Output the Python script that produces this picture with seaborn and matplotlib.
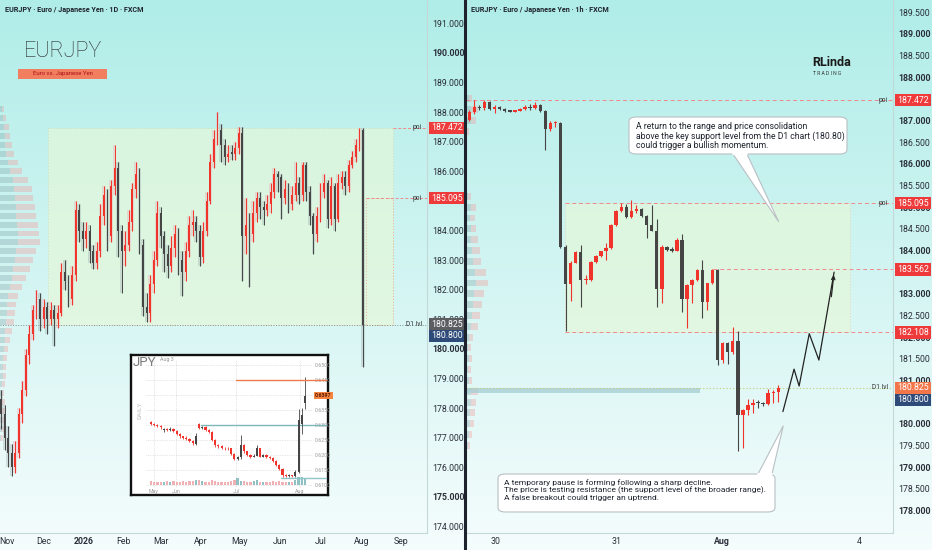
import matplotlib
matplotlib.use("Agg")
import matplotlib.pyplot as plt
import matplotlib.transforms as mtransforms
from matplotlib.patches import FancyBboxPatch, Polygon, Rectangle
from matplotlib.lines import Line2D
import numpy as np
import pandas as pd
import seaborn as sns

# ---- daily EURJPY (left panel), red = up, dark = down
d1_open0 = 178.3
d1_close = [177.8, 177.0, 176.5, 176.0, 176.5, 177.8, 178.6, 179.8, 180.5, 181.3,
            181.7, 181.0, 181.4, 181.0, 181.3, 181.0, 181.2, 182.6, 182.3, 181.7,
            182.5, 184.7, 184.0, 183.7, 184.0, 183.3, 182.9, 183.3, 184.5, 185.2,
            183.8, 185.5, 186.1, 184.0, 183.3, 183.5, 184.3, 185.4, 185.9, 183.5,
            181.4, 181.2, 182.2, 183.0, 184.6, 183.8, 183.2, 182.8, 183.4, 183.9,
            183.0, 182.6, 183.3, 184.2, 184.3, 184.0, 183.1, 184.0, 185.0, 186.3,
            187.1, 187.4, 186.9, 186.5, 186.6, 186.6, 186.8, 187.3, 183.8, 184.2,
            183.9, 184.6, 185.1, 184.8, 184.7, 184.9, 185.3, 185.9, 185.8, 185.1,
            185.4, 184.9, 185.2, 185.6, 185.2, 186.2, 185.3, 184.5, 183.9, 184.5,
            185.3, 185.6, 184.4, 185.5, 184.4, 185.6, 185.8, 185.5, 186.2, 186.5,
            186.9, 187.4, 180.8]
d1_high = [178.6, 178.1, 177.4, 176.8, 176.9, 178.0, 178.9, 180.0, 180.8, 181.5,
           182.0, 181.9, 181.7, 181.6, 181.6, 181.5, 181.5, 182.9, 183.0, 182.5,
           182.8, 185.0, 184.9, 184.3, 184.3, 184.2, 183.5, 183.6, 184.9, 185.5,
           185.4, 185.7, 186.9, 186.3, 184.2, 184.0, 184.7, 185.6, 186.3, 186.1,
           183.7, 181.9, 182.5, 183.3, 185.0, 184.8, 184.0, 183.5, 183.8, 184.2,
           184.1, 183.3, 183.6, 184.5, 184.7, 184.5, 184.2, 184.3, 185.3, 186.6,
           187.4, 188.0, 187.6, 187.1, 186.9, 186.9, 187.0, 187.5, 187.5, 185.1,
           184.6, 185.0, 185.3, 185.3, 185.0, 185.2, 185.6, 186.1, 186.0, 185.9,
           185.7, 185.6, 185.5, 186.3, 185.8, 186.3, 186.3, 185.5, 184.6, 184.8,
           185.6, 185.9, 185.7, 185.8, 185.6, 185.9, 186.0, 186.0, 186.4, 186.7,
           187.1, 187.47, 187.47]
d1_low = [177.3, 176.6, 176.0, 175.7, 175.8, 176.3, 177.5, 178.4, 179.5, 180.3,
          181.0, 180.6, 180.7, 180.5, 180.8, 180.1, 180.7, 181.1, 182.0, 181.4,
          181.5, 182.3, 183.6, 183.3, 183.4, 182.9, 182.7, 182.7, 183.1, 184.2,
          183.3, 183.6, 185.2, 183.1, 181.9, 182.8, 183.3, 184.0, 185.1, 183.2,
          181.1, 180.9, 180.9, 181.9, 182.8, 183.4, 182.6, 182.4, 182.6, 183.1,
          182.5, 181.8, 182.3, 183.1, 183.8, 183.6, 182.8, 182.9, 183.8, 184.9,
          186.1, 186.9, 186.3, 186.2, 186.3, 186.4, 186.4, 186.6, 182.3, 183.2,
          182.1, 183.6, 184.3, 184.4, 184.2, 184.5, 184.6, 185.1, 185.3, 184.4,
          184.9, 184.6, 184.7, 185.0, 184.9, 185.0, 185.0, 184.2, 183.2, 183.6,
          184.3, 185.1, 184.1, 184.2, 184.0, 184.3, 185.4, 185.2, 185.3, 186.1,
          186.3, 186.7, 179.4]
d1_tick_pos = [1.7, 12.1, 23.4, 34.4, 45.1, 56.4, 67.3, 78.6, 90.2, 101.7, 112.7]
d1_tick_lab = ['Nov', 'Dec', '2026', 'Feb', 'Mar', 'Apr', 'May', 'Jun', 'Jul', 'Aug', 'Sep']
d1_yticks = list(range(174, 192))
d1_vp_price = np.round(np.arange(177.0, 188.2, 0.3), 1)
d1_vp_vol = [3, 4, 4, 5, 5, 4, 5, 6, 6, 7, 8, 10, 12, 14, 15, 16, 18, 22, 26, 30,
             33, 36, 40, 39, 38, 36, 35, 33, 32, 28, 22, 18, 14, 12, 10, 9, 6, 4]
d1_range = (13.2, 110.5)      # bar index span of the D1 range box
d1_inner = (102.8, 110.5)

# ---- hourly EURJPY (right panel)
h1_open0 = 187.02
h1_close = [187.20, 187.32, 187.28, 187.42, 187.26, 187.32, 187.26, 187.23, 187.21, 187.23,
            187.26, 187.32, 187.28, 187.36, 187.23, 186.80, 186.94, 186.95, 184.09, 183.23,
            183.72, 183.97, 183.31, 183.32, 183.74, 183.87, 183.98, 184.06, 184.59, 184.91,
            185.01, 184.77, 184.92, 184.95, 184.80, 184.60, 184.46, 183.10, 184.09, 184.01,
            184.00, 184.24, 182.89, 183.20, 183.32, 183.55, 182.81, 183.24, 183.55, 181.47,
            181.86, 181.66, 181.92, 180.20, 180.32, 180.43, 180.47, 180.47, 180.46, 180.70,
            180.74, 180.82]
h1_high = [187.25, 187.48, 187.36, 187.47, 187.45, 187.35, 187.34, 187.28, 187.24, 187.25,
           187.28, 187.35, 187.38, 187.42, 187.38, 187.25, 186.98, 187.00, 186.97, 184.12,
           183.75, 184.00, 184.13, 183.43, 183.76, 183.90, 184.00, 184.17, 184.62, 184.94,
           185.09, 185.07, 185.17, 185.05, 184.97, 184.82, 185.05, 184.72, 184.12, 184.11,
           184.07, 184.29, 184.38, 183.22, 183.34, 183.57, 183.78, 183.26, 183.58, 183.57,
           181.89, 181.88, 182.24, 182.15, 180.35, 180.58, 180.58, 180.55, 180.49, 180.80,
           180.78, 180.90]
h1_low = [186.98, 187.15, 187.24, 187.24, 187.24, 187.17, 187.24, 187.21, 187.19, 187.20,
          187.22, 187.24, 187.25, 187.26, 187.20, 186.32, 186.76, 186.86, 184.05, 182.13,
          182.84, 183.70, 182.69, 183.23, 183.30, 183.72, 183.85, 183.78, 184.04, 184.57,
          184.89, 184.74, 184.75, 184.86, 184.78, 184.28, 184.44, 182.70, 182.78, 183.99,
          183.97, 183.98, 182.59, 182.20, 182.78, 183.30, 182.43, 182.62, 183.22, 181.36,
          181.40, 181.39, 181.62, 179.36, 179.43, 180.20, 180.24, 180.36, 180.40, 180.43,
          180.47, 180.51]
h1_tick_pos = [5.1, 29.1, 49.9, 77.0]
h1_tick_lab = ['30', '31', 'Aug', '4']
h1_yticks = [178.0 + 0.5 * k for k in range(24)]
h1_vp_price = np.arange(179.5, 187.6, 0.25)
h1_vp_vol = [4, 6, 8, 9, 10, 12, 6, 5, 6, 5, 7, 12, 14, 16, 18, 22, 20, 15, 14, 12,
             10, 9, 10, 5, 0, 0, 0, 0, 0, 3, 10, 12, 6]
h1_poc_price, h1_poc_vol = 180.77, 234
h1_range = (18.9, 75.1)
h1_proj_x = [61.9, 64.1, 65.1, 67.1, 69.0, 72.0]
h1_proj_y = [180.28, 181.26, 180.87, 182.08, 181.47, 183.50]

# levels
poi_hi, poi_lo, d1_lvl, last_px = 187.472, 185.095, 180.825, 180.800
h1_mid, h1_low_lvl = 183.562, 182.108

# ---- JPY inset (daily), red = down, dark = up
ins_open = [0.6310, 0.6305, 0.6300, 0.6298, 0.6282, 0.6287, 0.6283, 0.6288, 0.6280, 0.6270,
            0.6262, 0.6258, 0.6255, 0.6248, 0.6238, 0.6303, 0.6290, 0.6293, 0.6283, 0.6278,
            0.6250, 0.6232, 0.6230, 0.6225, 0.6222, 0.6222, 0.6205, 0.6188, 0.6192, 0.6235,
            0.6212, 0.6200, 0.6195, 0.6198, 0.6222, 0.6195, 0.6200, 0.6195, 0.6190, 0.6180,
            0.6168, 0.6155, 0.6132, 0.6130, 0.6132, 0.6130, 0.6145, 0.6305, 0.6375]
ins_close = [0.6305, 0.6300, 0.6298, 0.6292, 0.6287, 0.6283, 0.6288, 0.6280, 0.6270, 0.6262,
             0.6258, 0.6255, 0.6248, 0.6240, 0.6262, 0.6290, 0.6293, 0.6283, 0.6278, 0.6250,
             0.6232, 0.6230, 0.6225, 0.6222, 0.6222, 0.6205, 0.6188, 0.6192, 0.6235, 0.6212,
             0.6200, 0.6195, 0.6198, 0.6222, 0.6195, 0.6200, 0.6195, 0.6190, 0.6180, 0.6168,
             0.6155, 0.6132, 0.6130, 0.6132, 0.6130, 0.6145, 0.6318, 0.6335, 0.6397]
ins_high = [0.6315, 0.6307, 0.6303, 0.6300, 0.6290, 0.6290, 0.6292, 0.6290, 0.6282, 0.6272,
            0.6265, 0.6262, 0.6258, 0.6250, 0.6275, 0.6306, 0.6298, 0.6296, 0.6286, 0.6280,
            0.6255, 0.6236, 0.6233, 0.6228, 0.6226, 0.6225, 0.6208, 0.6196, 0.6267, 0.6238,
            0.6215, 0.6203, 0.6205, 0.6232, 0.6224, 0.6204, 0.6202, 0.6198, 0.6192, 0.6182,
            0.6170, 0.6158, 0.6136, 0.6136, 0.6135, 0.6150, 0.6352, 0.6358, 0.6461]
ins_low = [0.6300, 0.6297, 0.6294, 0.6288, 0.6278, 0.6280, 0.6280, 0.6277, 0.6267, 0.6258,
           0.6254, 0.6250, 0.6244, 0.6234, 0.6235, 0.6286, 0.6288, 0.6279, 0.6274, 0.6246,
           0.6228, 0.6225, 0.6220, 0.6218, 0.6217, 0.6200, 0.6183, 0.6185, 0.6188, 0.6208,
           0.6196, 0.6190, 0.6193, 0.6196, 0.6192, 0.6192, 0.6190, 0.6186, 0.6176, 0.6164,
           0.6150, 0.6128, 0.6126, 0.6128, 0.6126, 0.6128, 0.6139, 0.6270, 0.6355]
ins_vol = [3, 2, 2, 2, 2, 3, 2, 3, 2, 2, 3, 2, 3, 3, 4, 4, 3, 2, 2, 4, 3, 2, 2, 2, 2,
           3, 4, 5, 3, 3, 2, 2, 3, 4, 2, 2, 2, 2, 3, 2, 3, 2, 2, 2, 2, 4, 6, 6, 5]
ins_tick_pos = [0.9, 7.8, 26.5, 46.4]
ins_tick_lab = ['May', 'Jun', 'Jul', 'Aug']
ins_yticks = [0.610, 0.615, 0.620, 0.625, 0.630, 0.635, 0.640, 0.645, 0.650]
ins_res, ins_sup, ins_base = 0.6450, 0.6300, 0.6125

note_top = ["A return to the range and price consolidation",
            "above the key support level from the D1 chart (180.80)",
            "could trigger a bullish momentum."]
note_bottom = ["A temporary pause is forming following a sharp decline.",
               "The price is testing resistance (the support level of the broader range).",
               "A false breakout could trigger an uptrend."]

sns.set_theme(style="white")
plt.rcParams['font.family'] = ['Roboto', 'DejaVu Sans']

RED = '#f0342c'
DARK = '#454545'
TAGRED = '#ee3a3a'
NAVY = '#2e4a78'
W, H = 932, 550
fig = plt.figure(figsize=(W / 100, H / 100), dpi=100)


def fx(px):
    return px / W


def fy(py):
    return 1 - py / H


# background gradient
bg = fig.add_axes([0, 0, 1, 1], zorder=-10)
t = np.linspace(0, 1, 256)[:, None]
grad = np.array([0.69, 0.93, 0.91]) * (1 - t) + np.array([0.96, 0.99, 0.99]) * t
bg.imshow(grad[:, None, :], aspect='auto', extent=[0, 1, 0, 1])
bg.axis('off')


def candles(ax, o, h, l, c, width, up_col, dn_col, lw, min_h, ghost=False):
    o = np.asarray(o, float)
    c = np.asarray(c, float)
    h = np.asarray(h, float)
    l = np.asarray(l, float)
    x = np.arange(len(c))
    up = c > o
    cols = np.where(up, up_col, dn_col)
    if ghost:
        gcols = np.where(up, '#f19aa4', '#8f9ea2')
        ax.bar(x, h - l, width=1.0, bottom=l, color=gcols, alpha=0.3, lw=0, zorder=2.5)
    ax.vlines(x, l, h, colors=cols, lw=lw, zorder=3)
    ax.bar(x, np.maximum(np.abs(c - o), min_h), width=width, bottom=np.minimum(o, c),
           color=cols, lw=0, zorder=4)


def vprofile(ax, levels, vols, height, scale, zorder=1):
    tr = mtransforms.blended_transform_factory(ax.transAxes, ax.transData)
    v = np.asarray(vols, float) * scale
    ax.barh(levels, v * 0.45, height=height, left=0, color='#7d9ea4', alpha=0.32,
            lw=0, transform=tr, zorder=zorder)
    ax.barh(levels, v * 0.55, height=height, left=v * 0.45, color='#f2a0a0', alpha=0.38,
            lw=0, transform=tr, zorder=zorder)


def tag(ax, y, text, fc, tc='white', note=None):
    ax.annotate(text, xy=(1, y), xycoords=('axes fraction', 'data'), xytext=(3.2, 0),
                textcoords='offset points', ha='left', va='center', fontsize=6.3,
                color=tc, zorder=20, annotation_clip=False,
                bbox=dict(boxstyle='square,pad=0.2', fc=fc, ec='none'))
    if note:
        ax.annotate(note, xy=(1, y), xycoords=('axes fraction', 'data'), xytext=(-3.5, 0),
                    textcoords='offset points', ha='right', va='center', fontsize=4.8,
                    color='#333', zorder=20)


def style_axis(ax, yticks, bold, fmt, hidden=()):
    ax.set_facecolor('none')
    ax.yaxis.tick_right()
    ax.set_yticks(yticks)
    # labels sitting right under a price tag are covered in the original
    ax.set_yticklabels(['' if v in hidden else fmt.format(v) for v in yticks])
    for lab, v in zip(ax.get_yticklabels(), yticks):
        if v in bold:
            lab.set_fontweight('bold')
    ax.tick_params(axis='y', length=0, labelsize=6.3, colors='#2a2e39', pad=3.8)
    ax.tick_params(axis='x', length=0, labelsize=6.3, colors='#2a2e39', pad=2.6)
    for s in ('left', 'top'):
        ax.spines[s].set_visible(False)
    for s in ('right', 'bottom'):
        ax.spines[s].set_color('#c5d8d8')
        ax.spines[s].set_linewidth(0.8)
    ax.grid(False)


# ================= left: daily =================
ax1 = fig.add_axes([0, fy(533), fx(426.7), 533 / H])
d1_open = [d1_open0] + d1_close[:-1]
ax1.add_patch(Rectangle((d1_range[0], d1_lvl), d1_range[1] - d1_range[0], poi_hi - d1_lvl,
                        fc='#e6f8d8', alpha=0.65, ec='#d9cf9a', ls=(0, (1, 2)), lw=0.7, zorder=1))
ax1.add_patch(Rectangle((d1_inner[0], d1_lvl), d1_inner[1] - d1_inner[0], poi_lo - d1_lvl,
                        fc='none', ec='#efb38c', ls=(0, (1, 2)), lw=0.7, zorder=2))
vprofile(ax1, d1_vp_price, d1_vp_vol, 0.2, 1 / 426.7)
candles(ax1, d1_open, d1_high, d1_low, d1_close, 0.5, RED, DARK, 0.7, 0.04, ghost=True)
ax1.plot([d1_range[1], 200], [poi_hi, poi_hi], color='#f08a8a', lw=0.7, ls=(0, (3, 2)), zorder=2)
ax1.plot([d1_inner[0], 200], [poi_lo, poi_lo], color='#f08a8a', lw=0.7, ls=(0, (3, 2)), zorder=2)
ax1.axhline(d1_lvl, color='#8a8f8f', lw=0.7, ls=(0, (1, 1.6)), zorder=2)
ax1.set_xlim(-0.28, 119.95)
ax1.set_ylim(173.78, 191.79)
style_axis(ax1, d1_yticks, (175, 180, 190), '{:.3f}', hidden=(185,))
ax1.set_xticks(d1_tick_pos)
ax1.set_xticklabels(d1_tick_lab)
ax1.get_xticklabels()[2].set_fontweight('bold')
tag(ax1, poi_hi, '187.472', TAGRED, note='poi')
tag(ax1, poi_lo, '185.095', TAGRED, note='poi')
tag(ax1, d1_lvl, '180.825', '#5b5d60', note='D1 lvl')
tag(ax1, last_px - 0.36, '180.800', NAVY)

# ================= right: hourly =================
ax2 = fig.add_axes([fx(466), fy(533), fx(892.7) - fx(466), 533 / H])
h1_open = [h1_open0] + h1_close[:-1]
ax2.add_patch(Rectangle((h1_range[0], h1_low_lvl), h1_range[1] - h1_range[0], poi_lo - h1_low_lvl,
                        fc='#e6f8d8', alpha=0.65, ec='#e8c3a0', ls=(0, (1, 2)), lw=0.7, zorder=1))
vprofile(ax2, h1_vp_price, h1_vp_vol, 0.16, 1 / 426.7)
tr2 = mtransforms.blended_transform_factory(ax2.transAxes, ax2.transData)
ax2.barh([h1_poc_price], [h1_poc_vol / 426.7], height=0.1, left=0, color='#a9cfd6',
         alpha=0.8, lw=0, transform=tr2, zorder=1)
candles(ax2, h1_open, h1_high, h1_low, h1_close, 0.68, RED, DARK, 0.8, 0.025)
ax2.axhline(poi_hi, color='#f08a8a', lw=0.7, ls=(0, (4, 3)), zorder=2)
ax2.plot([h1_range[0], 200], [poi_lo, poi_lo], color='#f08a8a', lw=0.7, ls=(0, (4, 3)), zorder=2)
ax2.plot([h1_range[0], 200], [h1_low_lvl, h1_low_lvl], color='#f08a8a', lw=0.7, ls=(0, (4, 3)), zorder=2)
ax2.plot([48.1, 200], [h1_mid, h1_mid], color='#f08a8a', lw=0.7, ls=(0, (4, 3)), zorder=2)
ax2.axhline(d1_lvl, color='#c2cc74', lw=0.8, ls=(0, (1, 2)), zorder=2)
proj = pd.DataFrame({'bar': h1_proj_x, 'price': h1_proj_y})
sns.lineplot(data=proj, x='bar', y='price', ax=ax2, color='#222222', lw=0.9, sort=False,
             estimator=None, zorder=6)
ax2.annotate('', xy=(h1_proj_x[-1], h1_proj_y[-1]), xytext=(h1_proj_x[-2] + 2.4, h1_proj_y[-2] + 1.4),
             arrowprops=dict(arrowstyle='->', color='#222222', lw=0.9, mutation_scale=6), zorder=6)
ax2.set_xlim(-0.65, 83.57)
ax2.set_ylim(177.476, 189.785)
style_axis(ax2, h1_yticks, [v for v in h1_yticks if v == int(v)], '{:.3f}',
           hidden=(187.5, 183.5, 180.5))
ax2.set_xticks(h1_tick_pos)
ax2.set_xticklabels(h1_tick_lab)
ax2.get_xticklabels()[2].set_fontweight('bold')
ax2.set_xlabel('')
ax2.set_ylabel('')
tag(ax2, poi_hi, '187.472', TAGRED, note='poi')
tag(ax2, poi_lo, '185.095', TAGRED, note='poi')
tag(ax2, h1_mid, '183.562', TAGRED)
tag(ax2, h1_low_lvl, '182.108', TAGRED)
tag(ax2, d1_lvl, '180.825', '#f3764a', note='D1 lvl')
tag(ax2, last_px - 0.25, '180.800', NAVY)

# ================= inset: JPY daily =================
frame = fig.add_axes([fx(131), fy(495), fx(328) - fx(131), 140 / H], zorder=5)
frame.set_facecolor('white')
frame.set_xticks([])
frame.set_yticks([])
for s in frame.spines.values():
    s.set_color('#111111')
    s.set_linewidth(1.7)
ax3 = fig.add_axes([fx(146), fy(488), fx(313) - fx(146), 128 / H], zorder=6)
ax3.set_facecolor('none')
for v in ins_yticks:
    ax3.axhline(v, color='#cfcfcf', lw=0.5, ls=(0, (1, 1.5)), zorder=0)
for v in ins_tick_pos:
    ax3.axvline(v, color='#cfcfcf', lw=0.5, ls=(0, (1, 1.5)), zorder=0)
vcols = np.where(np.asarray(ins_close) > np.asarray(ins_open), '#8fc1c4', '#f0b0b4')
ax3.bar(np.arange(len(ins_vol)), np.asarray(ins_vol) * 0.00045, width=0.7, bottom=0.6100,
        color=vcols, lw=0, zorder=1)
candles(ax3, ins_open, ins_high, ins_low, ins_close, 0.66, DARK, RED, 0.6, 0.00012)
ax3.plot([26.5, 54.5], [ins_res, ins_res], color='#ef7a4a', lw=1.0, clip_on=False, zorder=5)
ax3.plot([15.7, 54.5], [ins_sup, ins_sup], color='#7fb7bb', lw=1.0, clip_on=False, zorder=2)
ax3.plot([40.6, 54.5], [ins_base, ins_base], color='#8fc6c9', lw=1.0, clip_on=False, zorder=2)
ax3.set_xlim(-1.56, 50.5)
ax3.set_ylim(0.6090, 0.6517)
ax3.yaxis.tick_right()
ax3.set_yticks(ins_yticks)
ax3.set_yticklabels([f'{v:.4f}' for v in ins_yticks])
ax3.set_xticks(ins_tick_pos)
ax3.set_xticklabels(ins_tick_lab)
ax3.tick_params(length=0, labelsize=3.8, colors='#9a9a9a', pad=1.3)
ax3.tick_params(axis='x', pad=0.6)
for s in ax3.spines.values():
    s.set_visible(False)
ax3.grid(False)
ax3.annotate(f'{ins_close[-1]:.4f}', xy=(1, ins_close[-1]), xycoords=('axes fraction', 'data'),
             xytext=(1.5, 0), textcoords='offset points', ha='left', va='center', fontsize=3.7,
             color='#5a1800', fontweight='bold', zorder=10, annotation_clip=False,
             bbox=dict(boxstyle='square,pad=0.2', fc='#f4843e', ec='none'))
fig.text(fx(133), fy(363), 'JPY', fontsize=9.5, color='#7a7a7a', va='center', ha='left', zorder=10)
fig.text(fx(160), fy(360), 'Aug 3', fontsize=3.8, color='#9a9a9a', va='center', ha='left', zorder=10)
fig.text(fx(140), fy(410), 'DAILY', fontsize=4.5, color='#d0d0d0', va='center', ha='center',
         rotation=90, fontweight='bold', zorder=10)

# ================= titles, logo, callouts =================
fig.text(fx(5), fy(10), 'EURJPY · Euro / Japanese Yen · 1D · FXCM', fontsize=5.2,
         fontweight='bold', color='#1e222d', va='center', ha='left')
fig.text(fx(471), fy(10), 'EURJPY · Euro / Japanese Yen · 1h · FXCM', fontsize=5.2,
         fontweight='bold', color='#1e222d', va='center', ha='left')
fig.text(fx(24), fy(52), 'EURJPY', fontsize=15.5, fontweight='light', color='#2a2a2a',
         va='center', ha='left')
fig.add_artist(Rectangle((fx(18), fy(79)), fx(107) - fx(18), 10 / H, transform=fig.transFigure,
                         fc='#f17e5e', ec='none'))
fig.text(fx(62.5), fy(74), 'Euro vs. Japanese Yen', fontsize=4.3, color='#a8101a',
         va='center', ha='center')
fig.text(fx(812), fy(63), 'RLinda', fontsize=9, fontweight='bold', color='#1a1a1a',
         va='center', ha='left')
fig.text(fx(813), fy(73.5), 'T R A D I N G', fontsize=3.6, color='#333333', va='center', ha='left')


def callout(box, base, tip, lines, text_xy, size):
    x0, y0, x1, y1 = box
    fig.add_artist(FancyBboxPatch((fx(x0), fy(y1)), fx(x1) - fx(x0), (y1 - y0) / H,
                                  boxstyle='round,pad=0,rounding_size=0.008',
                                  transform=fig.transFigure, fc='white', ec='#b9c0c4',
                                  lw=0.8, zorder=8))
    pts = [(fx(base[0][0]), fy(base[0][1])), (fx(tip[0]), fy(tip[1])),
           (fx(base[1][0]), fy(base[1][1]))]
    fig.add_artist(Polygon(pts, closed=False, transform=fig.transFigure, fc='white',
                           ec='#b9c0c4', lw=0.8, zorder=9))
    fig.add_artist(Line2D([pts[0][0], pts[2][0]], [pts[0][1], pts[2][1]],
                          transform=fig.transFigure, color='white', lw=1.4, zorder=10))
    fig.text(fx(text_xy[0]), fy(text_xy[1]), '\n'.join(lines), fontsize=size,
             color='#1e222d', va='top', ha='left', linespacing=1.02, zorder=11)


callout((629, 117, 847, 154), [(733, 154), (747, 154)], (778.7, 221.7), note_top, (635.5, 122), 6.2)
callout((498, 474, 775, 512), [(758, 474), (772, 474)], (783.3, 425.7), note_bottom, (504.5, 479.5), 6.05)

fig.add_artist(Line2D([fx(465), fx(465)], [0, 1], transform=fig.transFigure,
                      color='#1e222d', lw=2.2, zorder=12))

fig.savefig('out.png', dpi=100)
